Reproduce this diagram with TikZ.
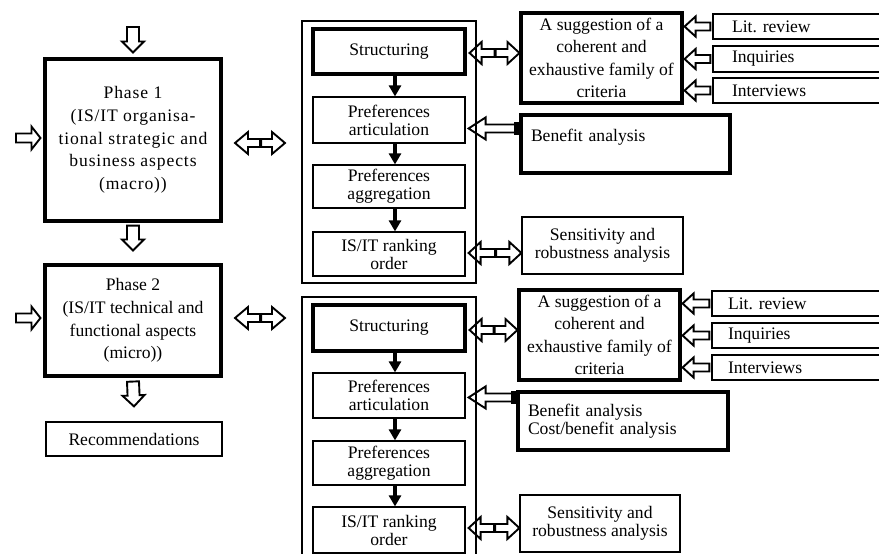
\documentclass[tikz,border=0pt]{standalone}
\usepackage{fontspec}
\setmainfont{Liberation Serif}
\newfontfamily\spacedfont[LetterSpace=5]{Liberation Serif}
\usetikzlibrary{calc,arrows.meta}
\newcommand{\phfont}{\fontsize{17.6}{22.7}\selectfont}
\begin{document}
\begin{tikzpicture}[x=1pt,y=-1pt,
  font=\fontsize{17.6}{18}\selectfont,
  thickbox/.style={draw, line width=3.1pt, align=center, inner sep=2pt},
  thinbox/.style={draw, line width=1.2pt, align=center, inner sep=2pt},
  litbox/.style={thinbox, minimum height=25pt, text width=134pt, inner xsep=19pt, align=left},
  benbox/.style={thickbox, minimum height=58pt, inner xsep=10pt, align=left},
  solidarrow/.style={line width=3.2pt, -{Triangle[length=11pt,width=12pt]}},
  blockarrow/.style n args={3}{line width=1.9pt, to path={
    let \p1=(\tikztostart), \p2=(\tikztotarget), \p3=($(\p2)!#3!(\p1)$) in
    ($(\p1)!#1!90:(\p2)$) -- ($(\p3)!#1!90:(\p2)$) -- ($(\p3)!#2!90:(\p2)$) -- (\p2)
    -- ($(\p3)!#2!-90:(\p2)$) -- ($(\p3)!#1!-90:(\p2)$) -- ($(\p1)!#1!-90:(\p2)$) -- cycle}},
  dblockarrow/.style n args={3}{line width=1.9pt, to path={
    let \p1=(\tikztostart), \p2=(\tikztotarget), \p3=($(\p2)!#3!(\p1)$), \p4=($(\p1)!#3!(\p2)$),
        \p5=($(\p1)!0.5!(\p2)$), \p6=($(\p5)!1.2pt!(\p2)$) in
    (\p1) -- ($(\p4)!#2!90:(\p2)$) -- ($(\p4)!#1!90:(\p2)$) -- ($(\p3)!#1!90:(\p2)$) -- ($(\p3)!#2!90:(\p2)$) -- (\p2)
    -- ($(\p3)!#2!-90:(\p2)$) -- ($(\p3)!#1!-90:(\p2)$) -- ($(\p4)!#1!-90:(\p2)$) -- ($(\p4)!#2!-90:(\p2)$) -- cycle
    ($(\p5)!#1!90:(\p2)$) -- ($(\p5)!#1!-90:(\p2)$)
    ($(\p6)!#1!90:(\p2)$) -- ($(\p6)!#1!-90:(\p2)$)}}
]
\useasboundingbox (0,0) rectangle (879,554);
\clip (0,0) rectangle (879,554);

% left column
\node[thickbox, minimum width=176pt, minimum height=162pt, font=\spacedfont\phfont] (ph1) at (133,140)
  {Phase 1\\(IS/IT organisa-\\tional strategic and\\business aspects\\(macro))};
\node[thickbox, minimum width=176pt, minimum height=111pt, font=\phfont] (ph2) at (133,320.5)
  {\rule{0pt}{9pt}Phase 2\\(IS/IT technical and\\functional aspects\\(micro))};
\node[thinbox, minimum width=176pt, minimum height=34pt] (rec) at (134,439) {Recommendations};

% containers
\node[thinbox, minimum width=174pt, minimum height=262pt] (c1) at (389,152) {};
\node[thinbox, minimum width=174pt, minimum height=263pt] (c2) at (389,428.5) {};

% inner boxes, block 1
\node[thickbox, minimum width=152pt, minimum height=45pt] (s1) at (389,51.5) {Structuring};
\node[thinbox, minimum width=152pt, minimum height=46pt] (pa1) at (389,120) {Preferences\\articulation};
\node[thinbox, minimum width=152pt, minimum height=43pt] (pg1) at (389,186.5) {Preferences\\aggregation};
\node[thinbox, minimum width=152pt, minimum height=44pt] (r1) at (389,254) {IS/IT ranking\\order};
% inner boxes, block 2
\node[thickbox, minimum width=152pt, minimum height=46pt] (s2) at (389,328) {Structuring};
\node[thinbox, minimum width=152pt, minimum height=45pt] (pa2) at (389,395.5) {Preferences\\articulation};
\node[thinbox, minimum width=152pt, minimum height=44pt] (pg2) at (389,463) {Preferences\\aggregation};
\node[thinbox, minimum width=152pt, minimum height=46pt] (r2) at (389,530) {IS/IT ranking\\order};

% right side, block 1
\node[thickbox, minimum width=161pt, minimum height=90pt, font=\fontsize{17.6}{22.3}\selectfont] (sug1) at (601.5,58)
  {A suggestion of a\\coherent and\\exhaustive family of\\criteria};
\node[litbox] (lit1) at (799,26.5) {Lit.\ review};
\node[litbox, minimum height=26pt] (inq1) at (799,59) {Inquiries};
\node[litbox] (int1) at (799,90.5) {Interviews};
\node[benbox, text width=189pt] (ben1) at (625.5,144) {Benefit analysis\\ \mbox{}};
\node[thinbox, minimum width=161pt, minimum height=57pt] (sen1) at (602.5,245.5) {\rule{0pt}{8pt}Sensitivity and\\robustness analysis};

% right side, block 2
\node[thickbox, minimum width=161pt, minimum height=90pt, font=\fontsize{17.6}{22.3}\selectfont] (sug2) at (599.5,335)
  {A suggestion of a\\coherent and\\exhaustive family of\\criteria};
\node[litbox, inner xsep=16pt, text width=141pt] (lit2) at (798.5,303.5) {Lit.\ review};
\node[litbox, inner xsep=16pt, text width=141pt] (inq2) at (798.5,335.5) {Inquiries};
\node[litbox, inner xsep=16pt, text width=141pt] (int2) at (798.5,367.5) {Interviews};
\node[benbox, text width=190pt] (ben2) at (623,421) {Benefit analysis\\Cost/benefit analysis};
\node[thinbox, minimum width=160pt, minimum height=57pt] (sen2) at (600,523.5) {\rule{0pt}{8pt}Sensitivity and\\robustness analysis};

% free ends
\coordinate (in1) at (133,27);
\coordinate (l1) at (16,138);
\coordinate (l2) at (16,318);
\coordinate (d1a) at (235,143);
\coordinate (d1b) at (285,143);
\coordinate (d2a) at (235,318);
\coordinate (d2b) at (285,318);
\coordinate (bt1) at ($(ben1.north west)+(1,15)$);
\coordinate (bt2) at ($(ben2.north west)+(1,7)$);

% phase arrows
\draw[blockarrow={6pt}{11pt}{11pt}] (in1) to ($(ph1.north)+(0,-5)$);
\draw[blockarrow={6pt}{11pt}{11pt}] ($(ph1.south)+(0,3)$) to ($(ph2.north)+(0,-13)$);
\draw[blockarrow={6pt}{11pt}{11pt}] ($(ph2.south)+(0,4)$) to ($(rec.north)+(0,-15)$);
\draw[blockarrow={4.5pt}{11.5pt}{9pt}] (l1) to ($(ph1.west|-l1)+(-3,0)$);
\draw[blockarrow={4.5pt}{11.5pt}{9pt}] (l2) to ($(ph2.west|-l2)+(-3,0)$);
\draw[dblockarrow={4pt}{11pt}{13pt}] (d1a) to (d1b);
\draw[dblockarrow={4pt}{11pt}{13pt}] (d2a) to (d2b);

% solid arrows inside containers
\draw[solidarrow] ($(s1.south)+(6,0)$) -- ($(pa1.north)+(6,0)$);
\draw[solidarrow] ($(pa1.south)+(6,0)$) -- ($(pg1.north)+(6,0)$);
\draw[solidarrow] ($(pg1.south)+(6,0)$) -- ($(r1.north)+(6,0)$);
\draw[solidarrow] ($(s2.south)+(6,0)$) -- ($(pa2.north)+(6,0)$);
\draw[solidarrow] ($(pa2.south)+(6,0)$) -- ($(pg2.north)+(6,0)$);
\draw[solidarrow] ($(pg2.south)+(6,0)$) -- ($(r2.north)+(6,0)$);

% double arrows to right boxes
\draw[dblockarrow={4pt}{11pt}{12pt}] ($(s1.east)+(3,1.5)$) to ($(sug1.west|-s1.east)+(0,1.5)$);
\draw[dblockarrow={4pt}{11pt}{12pt}] ($(r1.east)+(3,-1)$) to ($(sen1.west|-r1.east)+(0,-1)$);
\draw[dblockarrow={4pt}{11pt}{12pt}] ($(s2.east)+(3,2)$) to ($(sug2.west|-s2.east)+(0,2)$);
\draw[dblockarrow={4pt}{11pt}{12pt}] ($(r2.east)+(3,-2)$) to ($(sen2.west|-r2.east)+(0,-2)$);

% benefit arrows
\draw[blockarrow={4pt}{11pt}{17pt}] (bt1) to ($(pa1.east|-bt1)+(3,0)$);
\fill ($(bt1)+(-6,-6.5)$) rectangle ($(bt1)+(0,6.5)$);
\draw[blockarrow={4pt}{11pt}{17pt}] (bt2) to ($(pa2.east|-bt2)+(3,0)$);
\fill ($(bt2)+(-6,-6.5)$) rectangle ($(bt2)+(0,6.5)$);

% literature arrows
\draw[blockarrow={4pt}{10pt}{11pt}] ($(lit1.west)+(-2,0)$) to ($(sug1.east|-lit1.west)+(1,0)$);
\draw[blockarrow={4pt}{10pt}{11pt}] ($(inq1.west)+(-2,0)$) to ($(sug1.east|-inq1.west)+(1,0)$);
\draw[blockarrow={4pt}{10pt}{11pt}] ($(int1.west)+(-2,0)$) to ($(sug1.east|-int1.west)+(1,0)$);
\draw[blockarrow={4pt}{10pt}{11pt}] ($(lit2.west)+(-2,0)$) to ($(sug2.east|-lit2.west)+(1,0)$);
\draw[blockarrow={4pt}{10pt}{11pt}] ($(inq2.west)+(-2,0)$) to ($(sug2.east|-inq2.west)+(1,0)$);
\draw[blockarrow={4pt}{10pt}{11pt}] ($(int2.west)+(-2,0)$) to ($(sug2.east|-int2.west)+(1,0)$);
\end{tikzpicture}
\end{document}
